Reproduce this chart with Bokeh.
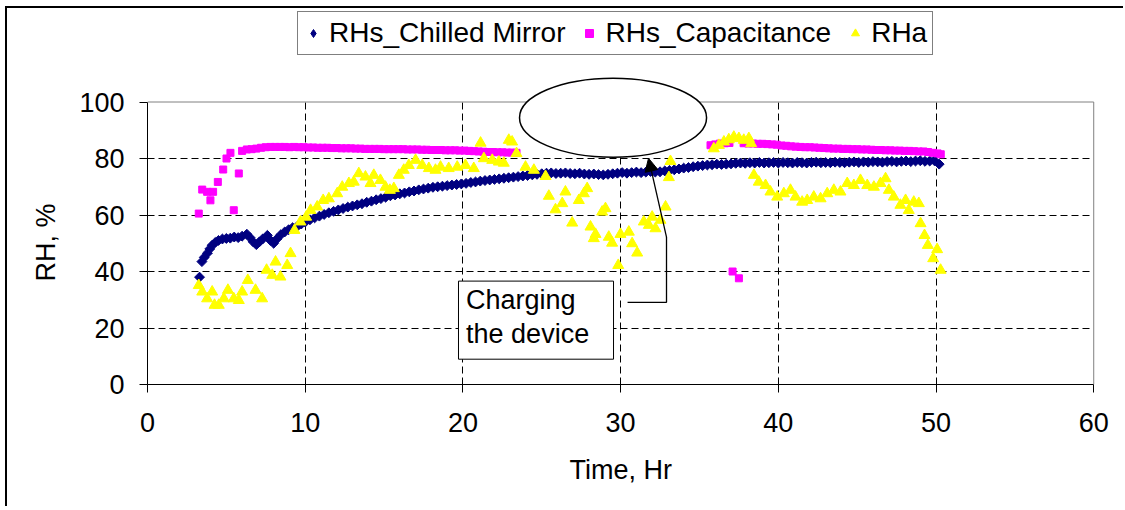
import numpy as np
from bokeh.plotting import figure
from bokeh.models import (Range1d, FixedTicker, Legend, LegendItem, Label, Title,
                          BoxAnnotation, Arrow, NormalHead)
from bokeh.embed import file_html
from bokeh.resources import INLINE

FONT = "Liberation Sans"
FS = "27px"

# ---------------- data ----------------
XTICKS = [0, 10, 20, 30, 40, 50, 60]
YTICKS = [0, 20, 40, 60, 80, 100]
XMAX = 60
YMAX = 100

CM_X = [3.3, 3.45, 3.6, 3.8, 3.95, 4.1, 4.3, 4.5, 4.75, 5.0, 5.25, 5.5, 5.75, 6.0, 6.3, 6.5,
        6.7, 6.9, 7.1, 7.3, 7.6, 7.8, 8.0, 8.2, 8.45, 8.7, 8.95, 9.2, 9.5, 9.75, 10.0, 10.3,
        10.6, 10.9, 11.2, 11.5, 11.8, 12.1, 12.4, 12.7, 13.0, 13.3, 13.6, 13.9, 14.2, 14.5,
        14.8, 15.1, 15.4, 15.7, 16.0, 16.3, 16.6, 16.9, 17.2, 17.5, 17.8, 18.1, 18.4, 18.7,
        19.0, 19.3, 19.6, 19.9, 20.2, 20.5, 20.8, 21.1, 21.4, 21.7, 22.0, 22.3, 22.6, 22.9,
        23.2, 23.5, 23.8, 24.1, 24.4, 24.7, 25.0, 25.3, 25.6, 25.9, 26.2, 26.5, 26.8, 27.1,
        27.4, 27.7, 28.0, 28.3, 28.6, 28.9, 29.2, 29.5, 29.8, 30.1, 30.4, 30.7, 31.0, 31.3,
        31.6, 31.9, 32.2, 32.5, 32.8, 33.1, 33.4, 33.7, 34.0, 34.3, 34.6, 34.9, 35.2, 35.5,
        35.8, 36.1, 36.4, 36.7, 37.0, 37.3, 37.6, 37.9, 38.2, 38.5, 38.8, 39.1, 39.4, 39.7,
        40.0, 40.3, 40.6, 40.9, 41.2, 41.5, 41.8, 42.1, 42.4, 42.7, 43.0, 43.3, 43.6, 43.9,
        44.2, 44.5, 44.8, 45.1, 45.4, 45.7, 46.0, 46.3, 46.6, 46.9, 47.2, 47.5, 47.8, 48.1,
        48.4, 48.7, 49.0, 49.3, 49.6, 49.9, 50.2]
CM_Y = [38.0, 43.5, 45.0, 46.5, 48.0, 49.3, 50.3, 51.0, 51.5, 51.7, 51.8, 52.2, 52.0, 52.5, 53.2, 52.0,
        50.5, 49.5, 50.5, 51.5, 52.8, 51.0, 50.0, 51.5, 53.0, 54.0, 54.8, 55.5, 56.0, 56.8, 57.5, 58.3,
        59.0, 59.6, 60.2, 60.8, 61.3, 61.8, 62.3, 62.8, 63.2, 63.6, 64.0, 64.5, 64.9, 65.4,
        65.8, 66.3, 66.8, 67.1, 67.5, 67.8, 68.2, 68.5, 68.9, 69.2, 69.5, 69.8, 70.0, 70.2,
        70.4, 70.6, 70.8, 71.0, 71.2, 71.5, 71.7, 72.0, 72.2, 72.4, 72.6, 72.8, 73.0, 73.2,
        73.4, 73.6, 73.8, 74.0, 74.2, 74.4, 74.6, 74.8, 74.9, 74.7, 74.8, 74.9, 74.7, 74.6,
        74.8, 74.5, 74.4, 74.5, 74.3, 74.2, 74.4, 74.6, 74.8, 75.0, 74.8, 75.0, 75.2, 75.0,
        75.2, 75.4, 75.2, 75.3, 75.6, 75.8, 76.0, 76.3, 76.6, 76.8, 77.1, 77.3, 77.5, 77.7,
        77.8, 78.0, 77.9, 78.0, 78.1, 78.3, 78.4, 78.3, 78.5, 78.4, 78.6, 78.4, 78.5, 78.6,
        78.4, 78.6, 78.5, 78.4, 78.6, 78.5, 78.4, 78.6, 78.7, 78.5, 78.6, 78.5, 78.7, 78.6,
        78.5, 78.7, 78.8, 78.6, 78.8, 78.7, 78.9, 78.8, 78.7, 78.9, 79.0, 78.8, 79.0, 79.1,
        78.9, 79.1, 79.2, 79.0, 79.1, 79.2, 78.0]

CAP_X = [3.25, 3.47, 3.78, 3.99, 4.16, 4.46, 4.8, 5.01, 5.26, 5.47, 5.79, 6.0,
         6.3, 6.6, 6.9, 7.2, 7.5, 7.8, 8.1, 8.4, 8.7, 9.0, 9.3, 9.6, 9.9, 10.2, 10.5,
         10.8, 11.1, 11.4, 11.7, 12.0, 12.3, 12.6, 12.9, 13.2, 13.5, 13.8, 14.1, 14.4,
         14.7, 15.0, 15.3, 15.6, 15.9, 16.2, 16.5, 16.8, 17.1, 17.4, 17.7, 18.0, 18.3,
         18.6, 18.9, 19.2, 19.5, 19.8, 20.1, 20.4, 20.7, 21.0, 21.3, 21.6, 21.9, 22.2,
         22.5, 22.8, 23.1, 23.4,
         35.7, 36.0, 36.3, 36.6, 36.9, 37.1, 37.5, 37.8, 38.1, 38.4, 38.7, 39.0, 39.3,
         39.6, 39.9, 40.2, 40.5, 40.8, 41.1, 41.4, 41.7, 42.0, 42.3, 42.6, 42.9, 43.2,
         43.5, 43.8, 44.1, 44.4, 44.7, 45.0, 45.3, 45.6, 45.9, 46.2, 46.5, 46.8, 47.1,
         47.4, 47.7, 48.0, 48.3, 48.6, 48.9, 49.2, 49.5, 49.8, 50.1, 50.3]
CAP_Y = [60.5, 69.0, 68.2, 65.2, 68.2, 71.7, 76.1, 80.0, 82.0, 61.7, 74.7, 82.7,
         83.2, 83.3, 83.5, 83.8, 84.0, 84.1, 84.1, 84.1, 84.1, 84.0, 84.1, 84.0, 84.0, 83.9, 83.9,
         83.8, 83.8, 83.8, 83.7, 83.7, 83.6, 83.6, 83.6, 83.5, 83.5, 83.4, 83.4, 83.4,
         83.4, 83.3, 83.3, 83.3, 83.3, 83.3, 83.2, 83.2, 83.2, 83.1, 83.1, 83.0, 83.0,
         83.0, 82.9, 82.9, 82.9, 82.8, 82.8, 82.7, 82.6, 82.5, 82.4, 82.3, 82.3, 82.2,
         82.2, 82.1, 82.1, 82.0,
         84.7, 85.0, 85.3, 85.4, 85.5, 40.0, 37.6, 85.4, 85.3, 85.3, 85.2, 85.2, 85.1,
         85.0, 84.9, 84.6, 84.5, 84.3, 84.2, 84.1, 84.0, 84.0, 83.9, 83.8, 83.7, 83.6,
         83.5, 83.5, 83.4, 83.4, 83.3, 83.3, 83.2, 83.2, 83.1, 83.0, 83.0, 82.9, 82.9,
         82.8, 82.8, 82.7, 82.7, 82.6, 82.5, 82.5, 82.3, 82.0, 81.8, 81.5]

RHA_X = [3.25, 3.47, 3.78, 4.10, 4.25, 4.52, 4.84, 5.10, 5.47, 5.79, 6.00, 6.36, 6.85,
         7.27, 7.55, 7.91, 8.12, 8.43, 8.86, 9.07, 9.32, 9.70, 10.06, 10.34, 10.76, 11.14,
         11.50, 12.03, 12.35, 12.77, 13.08, 13.40, 13.82, 14.14, 14.35, 14.77, 15.09, 15.37,
         15.62, 15.94, 16.25, 16.57, 17.00, 17.42, 17.84, 18.26, 18.58, 19.10, 19.64, 20.16,
         20.69, 21.12, 21.33, 21.86, 22.28, 22.59, 22.91, 23.12, 23.40, 23.97, 24.50, 25.24,
         25.45, 25.87, 26.30, 26.50, 26.93, 27.35, 27.67, 27.88, 28.09, 28.30, 28.41, 28.83,
         29.04, 29.25, 29.46, 29.85, 29.99, 30.52, 30.73, 31.05, 31.47, 31.79, 32.00, 32.21,
         32.53, 32.85, 33.06, 33.16, 35.91, 36.23, 36.55, 36.86, 37.18, 37.50, 37.81, 38.13,
         38.28, 38.45, 38.76, 39.19, 39.50, 39.93, 40.35, 40.77, 41.09, 41.51, 41.83, 42.25,
         42.68, 43.10, 43.52, 43.94, 44.37, 44.79, 45.21, 45.64, 46.06, 46.48, 46.80, 47.01,
         47.32, 47.74, 48.07, 48.27, 48.59, 48.91, 49.02, 49.27, 49.48, 49.82, 50.07, 50.29]
RHA_Y = [35.1, 32.8, 30.4, 32.8, 28.1, 28.1, 30.4, 33.4, 30.4, 29.8, 32.8, 36.9, 33.4,
         30.4, 40.5, 38.7, 43.4, 38.1, 42.2, 46.4, 54.6, 57.6, 59.3, 61.7, 62.9, 65.2,
         65.8, 67.6, 69.9, 71.2, 71.7, 74.7, 73.5, 71.2, 74.1, 72.3, 69.9, 68.8,
         69.4, 74.1, 75.9, 77.6, 79.4, 77.6, 76.5, 75.9, 77.0, 76.5, 77.0, 77.6,
         76.5, 85.5, 80.0, 79.4, 78.8, 78.4, 86.5, 85.9, 81.8, 77.0, 75.9, 73.7,
         66.7, 61.9, 64.1, 68.2, 57.2, 65.2, 67.6, 69.4, 55.8, 51.7, 53.2, 61.1,
         62.3, 52.2, 50.1, 42.2, 53.2, 54.0, 49.9, 46.6, 57.6, 56.4, 59.3, 55.2,
         58.2, 62.9, 73.3, 79.0, 83.5, 84.7, 85.9, 86.7, 87.6, 87.1, 86.5, 87.1,
         85.3, 74.1, 71.7, 70.5, 68.2, 66.4, 67.6, 68.8, 66.4, 64.6, 65.2, 66.4,
         65.8, 67.6, 68.8, 68.2, 71.2, 70.5, 72.3, 70.5, 69.9, 71.2, 72.9, 68.8,
         66.4, 63.5, 65.2, 61.7, 64.6, 64.1, 57.0, 52.8, 49.3, 44.6, 47.8, 40.5]

SERIES_NAMES = ["RHs_Chilled Mirror", "RHs_Capacitance", "RHa"]
X_TITLE = "Time, Hr"
Y_TITLE = "RH, %"

# annotation geometry (data units)
ELLIPSE = dict(x=29.52, y=94.44, w=11.86, h=27.96)
NOTE_BOX = dict(left=19.72, right=29.55, top=36.6, bottom=8.96)
NOTE_TEXT_POS = (20.2, 35.3)
CONNECTOR_X = [30.44, 32.91, 32.91]
CONNECTOR_Y = [29.1, 29.1, 52.2]
ARROW_TIP = (31.77, 80.1)

# ---------------- figure ----------------
p = figure(width=1118, height=500, output_backend="svg", toolbar_location=None,
           x_range=Range1d(0, 61), y_range=Range1d(0, 133.1),
           min_border_left=140, min_border_right=16, min_border_top=0,
           min_border_bottom=124)
p.outline_line_color = None
p.background_fill_color = "white"
p.border_fill_color = "white"
p.styles = {"margin-left": "5px", "margin-top": "6px",
            "border-top": "2px solid black", "border-left": "2px solid black"}

for ax, ticks, bnds in ((p.xaxis, XTICKS, (0, XMAX)), (p.yaxis, YTICKS, (0, YMAX))):
    ax.ticker = FixedTicker(ticks=ticks)
    ax.bounds = bnds
    ax.axis_line_color = "black"
    ax.axis_line_width = 1
    ax.major_tick_line_color = "black"
    ax.major_tick_out = 8
    ax.major_tick_in = 0
    ax.minor_tick_out = 0
    ax.minor_tick_in = 0
    ax.major_label_text_font = FONT
    ax.major_label_text_font_size = FS
    ax.major_label_text_color = "black"

p.xaxis.major_label_standoff = 20
p.yaxis.major_label_standoff = 15

# axis titles (side titles, anchored by offset so they sit where the original has them)
p.add_layout(Title(text=Y_TITLE, align="right", offset=195, standoff=31,
                   text_font=FONT, text_font_size=FS, text_font_style="normal",
                   text_color="black"), "left")
p.add_layout(Title(text=X_TITLE, align="left", offset=422, standoff=36,
                   text_font=FONT, text_font_size=FS, text_font_style="normal",
                   text_color="black"), "below")

p.xgrid.ticker = FixedTicker(ticks=[t for t in XTICKS if 0 < t < XMAX])
p.ygrid.ticker = FixedTicker(ticks=[t for t in YTICKS if 0 < t < YMAX])
p.xgrid.cross_bounds = (0, YMAX)
p.ygrid.cross_bounds = (0, XMAX)
for g in (p.xgrid, p.ygrid):
    g.grid_line_color = "black"
    g.grid_line_dash = "7 4"
    g.grid_line_width = 1

# plot-area box (top and right edges)
p.line(x=[0, XMAX, XMAX], y=[YMAX, YMAX, 0], line_color="#808080", line_width=1)

# legend key for the diamond series (legend keys ignore marker angle); sits under the real marker
r_cm_key = p.scatter(CM_X[:1], CM_Y[:1], marker="diamond", size=9, fill_color="#000080",
                     line_color="#000080", line_width=1)
r_cm = p.scatter(CM_X, CM_Y, marker="square", angle=np.pi / 4, size=7,
                 fill_color="#000080", line_color="#000080", line_width=1)
r_cap = p.scatter(CAP_X, CAP_Y, marker="square", size=7,
                  fill_color="#FF00FF", line_color="#FF00FF", line_width=1)
r_rha = p.scatter(RHA_X, RHA_Y, marker="triangle", size=11,
                  fill_color="#FFFF00", line_color="#FFFF00", line_width=1)

# annotations
p.ellipse(x=[ELLIPSE["x"]], y=[ELLIPSE["y"]], width=[ELLIPSE["w"]], height=[ELLIPSE["h"]],
          fill_color="white", line_color="black", line_width=1.5, level="overlay")
p.add_layout(BoxAnnotation(left=NOTE_BOX["left"], right=NOTE_BOX["right"],
                           top=NOTE_BOX["top"], bottom=NOTE_BOX["bottom"],
                           fill_color="white", fill_alpha=1, line_color="black",
                           line_width=1, line_alpha=1, level="overlay"))
p.add_layout(Label(x=NOTE_TEXT_POS[0], y=NOTE_TEXT_POS[1], text="Charging\nthe device",
                   text_font=FONT, text_font_size=FS, text_color="black",
                   text_align="left", text_baseline="top", text_line_height=1.15,
                   level="overlay"))
p.line(x=CONNECTOR_X, y=CONNECTOR_Y, line_color="black", line_width=1.3, level="overlay")
p.add_layout(Arrow(x_start=CONNECTOR_X[-1], y_start=CONNECTOR_Y[-1],
                   x_end=ARROW_TIP[0], y_end=ARROW_TIP[1], line_color="black",
                   line_width=1.3, level="overlay",
                   end=NormalHead(size=13, fill_color="black", line_color="black")))

legend = Legend(items=[LegendItem(label=SERIES_NAMES[0], renderers=[r_cm_key]),
                       LegendItem(label=SERIES_NAMES[1], renderers=[r_cap]),
                       LegendItem(label=SERIES_NAMES[2], renderers=[r_rha])],
                orientation="horizontal", location=(150, 329),
                border_line_color="black", border_line_width=1,
                background_fill_color="white", background_fill_alpha=1,
                padding=5, spacing=14, margin=0, glyph_width=20, glyph_height=22,
                label_standoff=6, label_text_font=FONT, label_text_font_size="28px",
                label_text_color="black")
p.add_layout(legend)

open("out.html", "w").write(file_html(p, INLINE))
